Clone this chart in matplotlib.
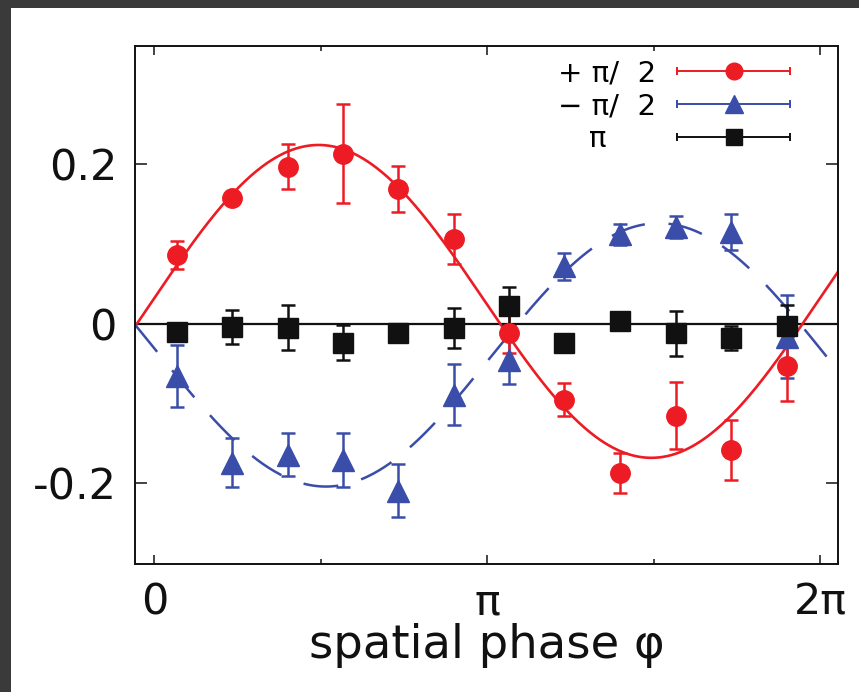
import numpy as np
import matplotlib
matplotlib.use("Agg")
import matplotlib.pyplot as plt
from matplotlib.lines import Line2D
from matplotlib.patches import Rectangle
from matplotlib.legend_handler import HandlerBase

plt.rcParams['font.family'] = ['DejaVu Sans']

# spatial phase of the measurement points (rad)
phase = [0.21, 0.73, 1.26, 1.78, 2.30, 2.83, 3.35, 3.87, 4.40, 4.92, 5.44, 5.97]

plus_val = [0.086, 0.157, 0.197, 0.213, 0.169, 0.106, -0.012, -0.095, -0.187, -0.115, -0.158, -0.053]
plus_err = [0.018, 0.006, 0.028, 0.062, 0.029, 0.031, 0.025, 0.021, 0.025, 0.042, 0.038, 0.044]

minus_val = [-0.065, -0.174, -0.164, -0.171, -0.209, -0.089, -0.045, 0.072, 0.112, 0.121, 0.115, -0.016]
minus_err = [0.039, 0.031, 0.027, 0.034, 0.033, 0.038, 0.030, 0.017, 0.013, 0.014, 0.023, 0.052]

pi_val = [-0.010, -0.004, -0.005, -0.024, -0.011, -0.005, 0.022, -0.024, 0.003, -0.012, -0.018, -0.003]
pi_err = [0.008, 0.021, 0.028, 0.022, 0.004, 0.025, 0.024, 0.005, 0.010, 0.028, 0.015, 0.026]

# sine fits: offset, amplitude, position of the extremum
plus_fit = (0.028, 0.196, 1.55)
minus_fit = (-0.039, -0.165, 1.62)

labels = ["+ π/  2", "− π/  2", "π"]

RED = "#ED1C24"
BLUE = "#3A4DA8"
BLACK = "#111111"

xmin, xmax = -0.182, 6.456


class CappedBar(HandlerBase):
    # horizontal bar with end caps and the marker in the middle
    def create_artists(self, legend, orig, xdescent, ydescent, width, height,
                       fontsize, trans):
        y = height / 2 - ydescent
        x0, x1 = -xdescent, width - xdescent
        c = orig.get_color()
        bar = Line2D([x0, x1], [y, y], color=c, lw=1.4)
        caps = Line2D([x0, x1], [y, y], ls='none', marker='|', ms=6,
                      mew=1.4, color=c)
        mark = Line2D([(x0 + x1) / 2], [y], ls='none', marker=orig.get_marker(),
                      ms=orig.get_markersize(), color=c)
        for a in (bar, caps, mark):
            a.set_transform(trans)
        return [bar, caps, mark]


fig = plt.figure(figsize=(8.59, 6.92), dpi=100, facecolor="#3a3a3a")
fig.add_artist(Rectangle((11 / 859, 0), 1, 1 - 8 / 692, transform=fig.transFigure,
                         facecolor="white", edgecolor="none", zorder=-1))
ax = fig.add_axes([0.1572, 0.185, 0.8187, 0.7485])

ax.axhline(0, color=BLACK, lw=1.6, zorder=1)

phi = np.linspace(xmin, xmax, 500)
c, a, p0 = plus_fit
ax.plot(phi, c + a * np.cos(phi - p0), color=RED, lw=1.9, zorder=2)
c, a, p0 = minus_fit
ax.plot(phi, c + a * np.cos(phi - p0), color=BLUE, lw=1.8, zorder=2,
        dashes=(14, 9.5))

ekw = dict(ls='none', elinewidth=1.8, capsize=4.7, capthick=1.8, zorder=3)
ax.errorbar(phase, minus_val, yerr=minus_err, color=BLUE, marker='^', ms=16, **ekw)
ax.errorbar(phase, plus_val, yerr=plus_err, color=RED, marker='o', ms=14, **ekw)
ax.errorbar(phase, pi_val, yerr=pi_err, color=BLACK, marker='s', ms=14, **ekw)

ax.set_xlim(xmin, xmax)
ax.set_ylim(-0.301, 0.348)

ax.set_xticks([0, np.pi, 2 * np.pi], ["0", "π", "2π"])
ax.set_xticks([np.pi / 2, 3 * np.pi / 2], minor=True)
ax.set_yticks([-0.2, 0, 0.2], ["-0.2", "0", "0.2"])

ax.tick_params(which='both', direction='in', top=True, right=True,
               width=1.1, labelsize=31, colors=BLACK)
ax.tick_params(axis='x', which='major', length=6.5, pad=12.5)
ax.tick_params(axis='x', which='minor', length=3.5)
ax.tick_params(axis='y', which='major', length=8.5, pad=13)
for s in ax.spines.values():
    s.set_linewidth(1.4)
    s.set_color(BLACK)

ax.set_xlabel("spatial phase φ", fontsize=33.5, labelpad=0, color=BLACK)

handles = [Line2D([], [], color=RED, marker='o', ms=12),
           Line2D([], [], color=BLUE, marker='^', ms=13),
           Line2D([], [], color=BLACK, marker='s', ms=12)]
leg = ax.legend(handles, labels, handler_map={Line2D: CappedBar()}, loc='upper right',
                bbox_to_anchor=(0.931, 0.974), frameon=False, markerfirst=False,
                fontsize=21, handlelength=3.85, handletextpad=0.72,
                labelspacing=0.17, borderpad=0, borderaxespad=0)
# the π entry sits under the middle of the longer labels
leg.get_texts()[2].set_x(-50)

fig.savefig("out.png", dpi=100)
